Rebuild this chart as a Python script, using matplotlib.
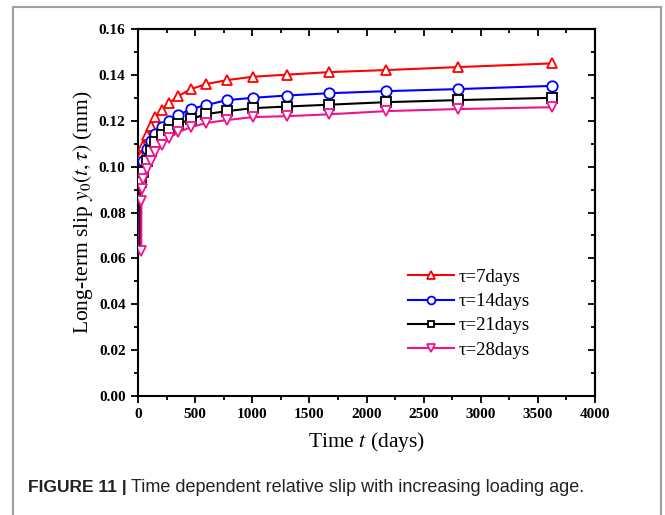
import matplotlib
matplotlib.use("Agg")
import matplotlib.pyplot as plt
from matplotlib.lines import Line2D
from matplotlib.ticker import MultipleLocator

plt.rcParams['font.family'] = ['Liberation Serif', 'DejaVu Serif']
plt.rcParams['mathtext.fontset'] = 'stix'

# ---- data ----
t_red = [7, 26, 44, 79, 114, 149, 210, 271, 350, 464, 595, 779, 1006, 1304, 1672, 2171, 2801, 3624]
y_red = [0.063, 0.1045, 0.1089, 0.1137, 0.1176, 0.1216, 0.1246, 0.1277, 0.1307, 0.1338, 0.1360,
         0.1377, 0.1392, 0.1401, 0.1412, 0.1421, 0.1434, 0.1450]

t_blue = [14, 26, 44, 79, 114, 149, 210, 271, 350, 464, 595, 779, 1006, 1304, 1672, 2171, 2801, 3624]
y_blue = [0.063, 0.0976, 0.1024, 0.1076, 0.1111, 0.1141, 0.1172, 0.1198, 0.1224, 0.1251, 0.1268,
          0.1290, 0.1300, 0.1310, 0.1320, 0.1329, 0.1338, 0.1352]

t_black = [21, 26, 44, 79, 114, 149, 210, 271, 350, 464, 595, 779, 1006, 1304, 1672, 2171, 2801, 3624]
y_black = [0.063, 0.0932, 0.0976, 0.1024, 0.1067, 0.1107, 0.1137, 0.1159, 0.1185, 0.1207, 0.1229,
           0.1242, 0.1255, 0.1262, 0.1270, 0.1281, 0.1290, 0.1300]

t_pink = [28, 30, 34, 44, 79, 114, 149, 210, 271, 350, 464, 595, 779, 1006, 1304, 1672, 2171, 2801, 3624]
y_pink = [0.063, 0.0849, 0.0901, 0.0945, 0.0989, 0.1024, 0.1063, 0.1093, 0.1124, 0.1150, 0.1172,
          0.1190, 0.1203, 0.1216, 0.1220, 0.1228, 0.1242, 0.1251, 0.1259]

labels = ["τ=7days", "τ=14days", "τ=21days", "τ=28days"]
colors = ["#ff0000", "#0000ff", "#000000", "#f0148c"]
markers = ["^", "o", "s", "v"]
x_ticks = [0, 500, 1000, 1500, 2000, 2500, 3000, 3500, 4000]
y_ticks = [0.00, 0.02, 0.04, 0.06, 0.08, 0.10, 0.12, 0.14, 0.16]

fig = plt.figure(figsize=(6.65, 5.15), dpi=100)
W, H = 665, 515
ax = fig.add_axes([138 / W, 1 - 396 / H, (595 - 138) / W, (396 - 29) / H])

series = [(t_red, y_red), (t_blue, y_blue), (t_black, y_black), (t_pink, y_pink)]
for i, ((t, y), lab, c, m) in enumerate(zip(series, labels, colors, markers)):
    me = slice(0, None) if i == 3 else slice(1, None)
    ms = 7.5 if m != "s" else 6.5
    ax.plot(t, y, color=c, lw=1.5, marker=m, ms=ms, mfc="white", mec=c, mew=1.3,
            markevery=me, label=lab, zorder=3 + i)

ax.set_xlim(0, 4000)
ax.set_ylim(0, 0.16)
ax.set_xticks(x_ticks)
ax.set_yticks(y_ticks)
ax.set_xticklabels([str(v) for v in x_ticks])
ax.set_yticklabels([f"{v:.2f}" for v in y_ticks])
ax.xaxis.set_minor_locator(MultipleLocator(250))
ax.yaxis.set_minor_locator(MultipleLocator(0.01))
for lab in ax.get_xticklabels() + ax.get_yticklabels():
    lab.set_fontweight("bold")
    lab.set_fontsize(11)

for s in ax.spines.values():
    s.set_linewidth(1.5)
ax.tick_params(which="both", direction="out", width=1.3, top=False, right=False)
ax.tick_params(which="major", length=5, pad=4)
ax.tick_params(which="minor", length=3)

# inward ticks on top and right spines
axt = ax.secondary_xaxis("top")
axt.set_xticks(x_ticks)
axt.xaxis.set_minor_locator(MultipleLocator(250))
axt.tick_params(which="both", direction="in", width=1.3, labeltop=False)
axt.tick_params(which="major", length=5)
axt.tick_params(which="minor", length=3)
axt.spines["top"].set_linewidth(1.5)
axr = ax.secondary_yaxis("right")
axr.set_yticks(y_ticks)
axr.yaxis.set_minor_locator(MultipleLocator(0.01))
axr.tick_params(which="both", direction="in", width=1.3, labelright=False)
axr.tick_params(which="major", length=5)
axr.tick_params(which="minor", length=3)
axr.spines["right"].set_linewidth(1.5)

ax.set_xlabel(r"Time $t$ (days)", fontsize=15.5, labelpad=6)
ax.set_ylabel(r"Long-term slip $y_0(t,\tau)$ (mm)", fontsize=15.5, labelpad=3)

leg = ax.legend(loc="lower right", bbox_to_anchor=(0.885, 0.066), frameon=False,
                fontsize=13.5, handlelength=2.5, handletextpad=0.2, labelspacing=0.38,
                markerscale=0.75, borderpad=0.2)

# grey frame around the figure
fig.add_artist(Line2D([13 / W, 13 / W], [0, 1 - 7 / H], color="#a0a0a0", lw=1.5))
fig.add_artist(Line2D([13 / W, 661 / W], [1 - 7 / H, 1 - 7 / H], color="#a0a0a0", lw=1.5))
fig.add_artist(Line2D([661 / W, 661 / W], [0, 1 - 7 / H], color="#a0a0a0", lw=1.5))

fig.text(28 / W, 1 - 492 / H, "FIGURE 11 |", fontsize=12.5, fontweight="bold",
         family=["Liberation Sans"], va="baseline", ha="left", color="#222222")
fig.text(131 / W, 1 - 492 / H, "Time dependent relative slip with increasing loading age.",
         fontsize=13, family=["Liberation Sans"], va="baseline", ha="left", color="#222222")

fig.savefig("out.png", dpi=100)
